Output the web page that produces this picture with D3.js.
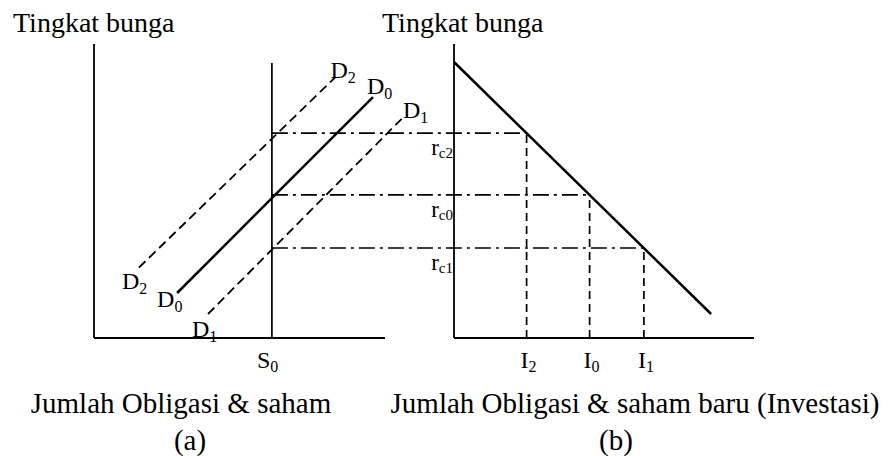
<!DOCTYPE html>
<html>
<head>
<meta charset="utf-8">
<script src="https://cdn.jsdelivr.net/npm/d3@7"></script>
<style>
    body { margin: 0; background: white; }
    text { font-family: "Liberation Serif", "DejaVu Serif", serif; fill: #000; }
</style>
</head>
<body>
<div id="chart"></div>
<script>
// shared interest-rate levels (r_c2, r_c0, r_c1)
const rateNames = ["c2", "c0", "c1"];
const rateValues = [68.3, 47.7, 30];

// panel (a): supply of bonds & shares, three demand curves
const supplyName = "0";
const supplyValue = 59.3;
const demandNames = ["2", "0", "1"];
const demandStartX = [15, 27.7, 38];
const demandStartY = [23.5, 15, 8];
const demandEndX = [80.5, 93, 103];
const demandEndY = [87, 80.3, 73.5];
const demandDashed = [true, false, true];

// panel (b): investment demand curve and the investment levels
const investCurveX = [0, 85.7];
const investCurveY = [92, 8];
const investNames = ["2", "0", "1"];
const investValues = [24.2, 45.2, 63.3];

const axisTops = [98, 98];
const axisEnds = [97, 100];

// label nudges (pixels) for the D curve names
const topLabelDx = [-5, -6, 0];
const topLabelDy = [1, -3, 0];
const bottomLabelDx = [-17, -20, -16];
const bottomLabelDy = [21, 14, 23];

class BondChart {
    constructor(DOM_ID) {
        this.id = DOM_ID;
        this.width = 892;
        this.height = 456;

        this.y = d3.scaleLinear().domain([0, 100]).range([338, 38]);
        this.xA = d3.scaleLinear().domain([0, 100]).range([94, 394]);
        this.xB = d3.scaleLinear().domain([0, 100]).range([454, 754]);

        this.render();
    }

    render() {
        this.svg = d3.select("#" + this.id)
            .append("svg")
            .attr("width", this.width)
            .attr("height", this.height)
            .style("background-color", "white");

        this.lineLayer = this.svg.append("g").attr("class", "lines");
        this.textLayer = this.svg.append("g").attr("class", "labels");

        this.renderAxes();
        this.renderPanelA();
        this.renderPanelB();
        this.renderGuides();
        this.renderTitles();
    }

    renderAxes() {
        let y = this.y;
        [this.xA, this.xB].forEach((x, i) => {
            this.lineLayer.append("line")
                .attr("x1", x(0)).attr("x2", x(0))
                .attr("y1", y(0)).attr("y2", y(axisTops[i]))
                .attr("stroke", "#000").attr("stroke-width", 1.8);
            this.lineLayer.append("line")
                .attr("x1", x(0)).attr("x2", x(axisEnds[i]))
                .attr("y1", y(0)).attr("y2", y(0))
                .attr("stroke", "#000").attr("stroke-width", 1.8);
        });
    }

    renderPanelA() {
        let x = this.xA, y = this.y;

        // vertical supply line S0
        this.lineLayer.append("line")
            .attr("x1", x(supplyValue)).attr("x2", x(supplyValue))
            .attr("y1", y(0)).attr("y2", y(91.7))
            .attr("stroke", "#000").attr("stroke-width", 1.7);

        this.lineLayer.selectAll("line.demand")
            .data(demandNames)
            .enter()
            .append("line")
            .attr("class", "demand")
            .attr("x1", (d, i) => x(demandStartX[i]))
            .attr("y1", (d, i) => y(demandStartY[i]))
            .attr("x2", (d, i) => x(demandEndX[i]))
            .attr("y2", (d, i) => y(demandEndY[i]))
            .attr("stroke", "#000")
            .attr("stroke-width", (d, i) => demandDashed[i] ? 1.8 : 2.5)
            .attr("stroke-dasharray", (d, i) => demandDashed[i] ? "9,5" : null);

        // labels at the upper end
        let top = this.textLayer.selectAll("text.dtop")
            .data(demandNames)
            .enter()
            .append("text")
            .attr("class", "dtop")
            .attr("x", (d, i) => x(demandEndX[i]) + topLabelDx[i])
            .attr("y", (d, i) => y(demandEndY[i]) + topLabelDy[i])
            .attr("font-size", 24);
        top.append("tspan").text("D");
        top.append("tspan").attr("font-size", 16).attr("dy", 5).text(d => d);

        // labels at the lower end
        let bottom = this.textLayer.selectAll("text.dbot")
            .data(demandNames)
            .enter()
            .append("text")
            .attr("class", "dbot")
            .attr("x", (d, i) => x(demandStartX[i]) + bottomLabelDx[i])
            .attr("y", (d, i) => y(demandStartY[i]) + bottomLabelDy[i])
            .attr("font-size", 24);
        bottom.append("tspan").text("D");
        bottom.append("tspan").attr("font-size", 16).attr("dy", 5).text(d => d);

        let s = this.textLayer.append("text")
            .attr("x", x(supplyValue) - 15)
            .attr("y", 368)
            .attr("font-size", 24);
        s.append("tspan").text("S");
        s.append("tspan").attr("font-size", 16).attr("dy", 4).text(supplyName);
    }

    renderPanelB() {
        let x = this.xB, y = this.y;

        this.lineLayer.append("line")
            .attr("x1", x(investCurveX[0])).attr("y1", y(investCurveY[0]))
            .attr("x2", x(investCurveX[1])).attr("y2", y(investCurveY[1]))
            .attr("stroke", "#000").attr("stroke-width", 2.5);

        // vertical dashed drops to the investment axis
        this.lineLayer.selectAll("line.drop")
            .data(investValues)
            .enter()
            .append("line")
            .attr("class", "drop")
            .attr("x1", d => x(d)).attr("x2", d => x(d))
            .attr("y1", y(0))
            .attr("y2", (d, i) => y(rateValues[i]))
            .attr("stroke", "#000").attr("stroke-width", 1.7)
            .attr("stroke-dasharray", "8,5");

        let lab = this.textLayer.selectAll("text.inv")
            .data(investNames)
            .enter()
            .append("text")
            .attr("class", "inv")
            .attr("x", (d, i) => x(investValues[i]) - 6)
            .attr("y", 368)
            .attr("font-size", 24);
        lab.append("tspan").text("I");
        lab.append("tspan").attr("font-size", 16).attr("dy", 4).text(d => d);

        let r = this.textLayer.selectAll("text.rate")
            .data(rateNames)
            .enter()
            .append("text")
            .attr("class", "rate")
            .attr("x", x(0) - 1)
            .attr("y", (d, i) => y(rateValues[i]) + 22)
            .attr("text-anchor", "end")
            .attr("font-size", 23);
        r.append("tspan").text("r");
        r.append("tspan").attr("font-size", 15).attr("dy", 3).text(d => d);
    }

    renderGuides() {
        // dash-dot rate lines from S0 across to the investment curve
        this.lineLayer.selectAll("line.rate")
            .data(rateValues)
            .enter()
            .append("line")
            .attr("class", "rate")
            .attr("x1", this.xA(supplyValue))
            .attr("x2", (d, i) => this.xB(investValues[i]))
            .attr("y1", d => this.y(d))
            .attr("y2", d => this.y(d))
            .attr("stroke", "#000").attr("stroke-width", 1.7)
            .attr("stroke-dasharray", "16,5,3,5");
    }

    renderTitles() {
        this.textLayer.append("text")
            .attr("x", 13).attr("y", 32)
            .attr("font-size", 28)
            .text("Tingkat bunga");
        this.textLayer.append("text")
            .attr("x", 382).attr("y", 32)
            .attr("font-size", 28)
            .text("Tingkat bunga");

        this.textLayer.append("text")
            .attr("x", 181).attr("y", 413)
            .attr("text-anchor", "middle")
            .attr("font-size", 29)
            .text("Jumlah Obligasi & saham");
        this.textLayer.append("text")
            .attr("x", 190).attr("y", 450)
            .attr("text-anchor", "middle")
            .attr("font-size", 29)
            .text("(a)");
        this.textLayer.append("text")
            .attr("x", 635).attr("y", 413)
            .attr("text-anchor", "middle")
            .attr("font-size", 29)
            .text("Jumlah Obligasi & saham baru (Investasi)");
        this.textLayer.append("text")
            .attr("x", 616).attr("y", 450)
            .attr("text-anchor", "middle")
            .attr("font-size", 29)
            .text("(b)");
    }
}

new BondChart("chart");
</script>
</body>
</html>
